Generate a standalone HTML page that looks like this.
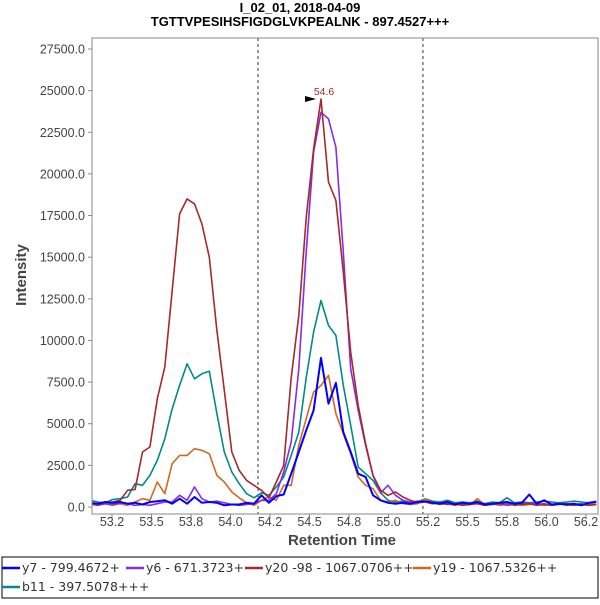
<!DOCTYPE html>
<html><head><meta charset="utf-8"><style>
body{margin:0;background:#fff;font-family:"Liberation Sans",sans-serif}
svg text{font-family:"Liberation Sans",sans-serif}
svg .leg{font-family:"DejaVu Sans",sans-serif}
</style></head><body>
<svg id="chart" width="600" height="600" viewBox="0 0 600 600" xmlns="http://www.w3.org/2000/svg">
<rect width="600" height="600" fill="#fff"/>
<text x="300" y="12" text-anchor="middle" font-size="13" font-weight="bold" fill="#000">I_02_01, 2018-04-09</text>
<text x="300" y="26" text-anchor="middle" font-size="13" font-weight="bold" fill="#000">TGTTVPESIHSFIGDGLVKPEALNK - 897.4527+++</text>
<defs><clipPath id="pc"><rect x="92" y="38" width="506" height="476"/></clipPath></defs>
<g id="yaxis"></g>
<g id="xaxis"></g>
<g id="series" clip-path="url(#pc)"></g>
<rect x="92" y="38" width="506" height="476" fill="none" stroke="#888" stroke-width="1"/>
<text transform="translate(26,275) rotate(-90)" text-anchor="middle" font-size="15" font-weight="bold" fill="#444">Intensity</text>
<text x="342" y="545" text-anchor="middle" font-size="15" font-weight="bold" fill="#444">Retention Time</text>
<g id="legend">
<rect x="2" y="557" width="596" height="41" fill="#fff" stroke="#000" stroke-width="1"/>
</g>
</svg>
<script>
const NS="http://www.w3.org/2000/svg";
const times=[53.113,53.160,53.207,53.254,53.301,53.349,53.396,53.443,53.490,53.537,53.584,53.631,53.678,53.725,53.772,53.819,53.866,53.914,53.961,54.008,54.055,54.102,54.149,54.196,54.243,54.290,54.337,54.384,54.432,54.479,54.526,54.573,54.620,54.667,54.714,54.761,54.808,54.855,54.902,54.950,54.997,55.044,55.091,55.138,55.185,55.232,55.279,55.326,55.373,55.420,55.467,55.515,55.562,55.609,55.656,55.703,55.750,55.797,55.844,55.891,55.938,55.985,56.032,56.080,56.127,56.174,56.221,56.268,56.315];
const y7=[250,200,300,250,300,200,250,150,300,350,400,200,500,200,600,250,300,250,100,150,150,250,200,700,250,650,750,2000,3300,4600,5800,8950,6200,7450,4500,3300,2000,1800,700,400,250,200,250,200,300,350,250,200,300,150,250,200,300,150,200,250,300,200,250,750,200,400,150,200,150,200,100,250,300];
const y6=[300,100,200,150,250,200,100,150,100,200,300,300,700,400,1200,500,300,350,250,150,100,150,200,400,400,800,2100,3900,8300,15300,21300,23700,23300,21600,15300,8300,5800,3700,1900,850,1300,700,400,300,350,300,200,250,200,150,200,150,250,200,150,200,100,150,200,250,150,200,100,150,200,150,200,100,150];
const y20=[200,150,250,300,400,1000,1050,3300,3600,6500,8400,13000,17600,18500,18200,17000,15000,10600,7000,3300,2200,1600,1300,1000,550,1500,2500,7750,11500,17350,21500,24500,19500,18400,14100,9300,6100,3800,1900,1000,700,900,600,400,250,300,200,250,150,200,100,150,200,100,150,200,250,100,150,200,100,150,100,200,150,100,150,100,150];
const y19=[150,100,200,100,200,100,300,500,400,1500,800,2600,3100,3100,3500,3400,3200,1900,1500,900,550,250,100,400,600,400,1300,1300,3700,5300,6900,7300,7900,5600,4400,3200,1800,1300,1100,400,300,400,200,150,200,500,250,150,200,100,200,150,500,150,200,100,150,200,100,150,200,100,150,200,100,150,100,200,150];
const b11=[400,300,250,450,500,600,1400,1300,1900,2800,4100,5900,7300,8600,7700,8000,8150,5600,3300,2100,1400,800,550,850,700,1200,1800,3100,4500,7750,10500,12400,10900,10300,7300,4900,2400,2000,1600,850,400,300,350,250,300,500,350,300,400,250,300,250,350,200,300,250,550,250,300,250,300,350,300,250,300,350,300,250,350];
const seriesNames=["y7 - 799.4672+","y6 - 671.3723+","y20 -98 - 1067.0706++","y19 - 1067.5326++","b11 - 397.5078+++"];
const yTicks=[0,2500,5000,7500,10000,12500,15000,17500,20000,22500,25000,27500];
const xTicks=[53.25,53.5,53.75,54.0,54.25,54.5,54.75,55.0,55.25,55.5,55.75,56.0,56.25];
const xTickLabels=["53.2","53.5","53.8","54.0","54.2","54.5","54.8","55.0","55.2","55.5","55.8","56.0","56.2"];
const boundaries=[54.174,55.218];
const peakTime=54.573, peakValue=24500;

const X=t=>112+(t-53.25)*158;
const Y=v=>507-v*0.016655;
function mk(tag,attrs,parent){const e=document.createElementNS(NS,tag);for(const k in attrs)e.setAttribute(k,attrs[k]);parent.appendChild(e);return e;}
const ya=document.getElementById('yaxis'),xa=document.getElementById('xaxis'),sg=document.getElementById('series'),lg=document.getElementById('legend');
yTicks.forEach(v=>{
  const l=mk('line',{x1:88,x2:92,y1:Y(v),y2:Y(v),stroke:'#888'},ya);
  
  
  const t=mk('text',{x:85,y:Y(v)+4.5,'text-anchor':'end','font-size':'12.5',fill:'#444'},ya);
  t.textContent=v.toFixed(1);
  
  
});
xTicks.forEach((v,i)=>{
  const l=mk('line',{x1:X(v),x2:X(v),y1:514,y2:518,stroke:'#888'},xa);
  
  
  const t=mk('text',{x:X(v),y:526,'text-anchor':'middle','font-size':'12.5',fill:'#444'},xa);
  t.textContent=xTickLabels[i];
  
  
});
boundaries.forEach(b=>{
  const l=mk('line',{x1:X(b),x2:X(b),y1:38,y2:514,stroke:'#333','stroke-dasharray':'3,3'},sg);
  
  
});
const data=[y7,y6,y20,y19,b11];
const colors=["#0000ff","#8a2be2","#a52a2a","#d2691e","#008b8b"];
const order=[4,3,1,2,0];
order.forEach(si=>{
  const pts=data[si].map((v,i)=>X(times[i]).toFixed(1)+','+Y(v).toFixed(1)).join(' ');
  const p=mk('polyline',{points:pts,fill:'none',stroke:colors[si],'stroke-width':si==0?2:1.6,'stroke-linejoin':'round'},sg);
  
  
});
const px=X(peakTime),py=Y(peakValue);
const tri=mk('polygon',{points:`${px-16},${py-3} ${px-5},${py} ${px-16},${py+3}`,fill:'#000'},sg);


const pl=mk('text',{x:px+3,y:py-4,'text-anchor':'middle','font-size':'10.5',fill:'#a52a2a'},sg);
pl.textContent=peakTime.toFixed(1);


const lx=[2,126,245,413,2], ly=[572,572,572,572,591];
seriesNames.forEach((n,i)=>{
  const g=mk('g',{},lg);
  
  
  mk('line',{x1:lx[i],x2:lx[i]+18,y1:ly[i]-4,y2:ly[i]-4,stroke:colors[i],'stroke-width':2.5},g);
  const t=mk('text',{x:lx[i]+20,y:ly[i],'font-size':'12.5',fill:'#333','class':'leg'},g);
  t.textContent=n;
});
</script>
</body></html>
